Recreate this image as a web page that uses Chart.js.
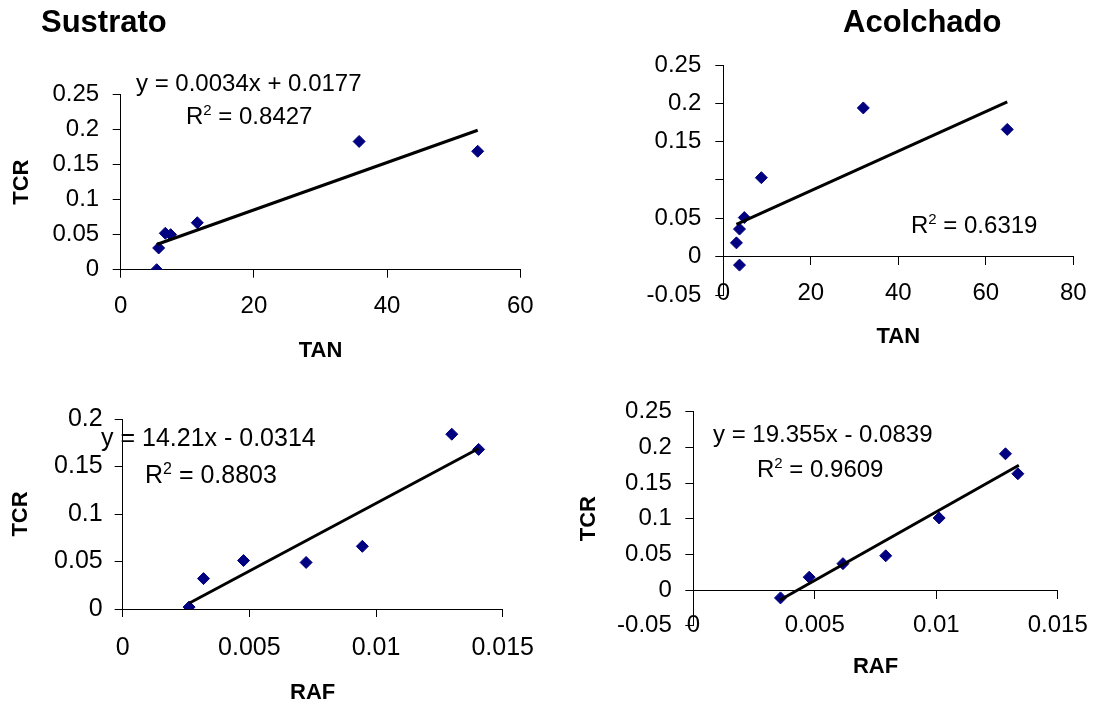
<!DOCTYPE html>
<html>
<head>
<meta charset="utf-8">
<title>TCR vs TAN / RAF</title>
<script src="https://cdn.jsdelivr.net/npm/chart.js@4.4.1/dist/chart.umd.min.js"></script>
<style>
  body { margin: 0; background: #fff; }
  canvas { position: absolute; left: 0; top: 0; }
</style>
</head>
<body>
<canvas id="c1" width="1094" height="707"></canvas>
<canvas id="c2" width="1094" height="707"></canvas>
<canvas id="c3" width="1094" height="707"></canvas>
<canvas id="c4" width="1094" height="707"></canvas>
<script>
// Sustrato: TCR vs TAN
const tanSustrato = [5.4, 5.7, 6.7, 7.5, 11.5, 35.8, 53.6];
const tcrSustratoTan = [0.000, 0.031, 0.052, 0.050, 0.067, 0.183, 0.169];
const trendTanSustrato = [5.4, 53.6];
const trendTcrSustratoTan = [0.036, 0.199];

// Acolchado: TCR vs TAN
const tanAcolchado = [3.0, 3.7, 3.7, 4.8, 8.7, 32.0, 64.9];
const tcrAcolchadoTan = [0.018, 0.036, -0.011, 0.051, 0.103, 0.194, 0.166];
const trendTanAcolchado = [3.0, 64.9];
const trendTcrAcolchadoTan = [0.042, 0.202];

// Sustrato: TCR vs RAF
const rafSustrato = [0.00262, 0.00319, 0.00477, 0.00724, 0.00946, 0.01299, 0.01405];
const tcrSustratoRaf = [0.002, 0.032, 0.051, 0.049, 0.066, 0.184, 0.168];
const trendRafSustrato = [0.00262, 0.01405];
const trendTcrSustratoRaf = [0.006, 0.169];

// Acolchado: TCR vs RAF
const rafAcolchado = [0.00359, 0.00477, 0.00616, 0.00792, 0.01012, 0.01285, 0.01336];
const tcrAcolchadoRaf = [-0.011, 0.018, 0.037, 0.048, 0.101, 0.191, 0.163];
const trendRafAcolchado = [0.00357, 0.0134];
const trendTcrAcolchadoRaf = [-0.014, 0.175];

// tick values and labels
const tcrTicks1 = [0, 0.05, 0.1, 0.15, 0.2, 0.25];
const tcrLabels1 = ['0', '0.05', '0.1', '0.15', '0.2', '0.25'];
const tanTicks1 = [0, 20, 40, 60];
const tanLabels1 = ['0', '20', '40', '60'];

const tcrTicks2 = [-0.05, 0, 0.05, 0.1, 0.15, 0.2, 0.25];
const tcrLabels2 = ['-0.05', '0', '0.05', '', '0.15', '0.2', '0.25'];
const tanTicks2 = [0, 20, 40, 60, 80];
const tanLabels2 = ['0', '20', '40', '60', '80'];

const tcrTicks3 = [0, 0.05, 0.1, 0.15, 0.2];
const tcrLabels3 = ['0', '0.05', '0.1', '0.15', '0.2'];
const rafTicks = [0, 0.005, 0.01, 0.015];
const rafLabels = ['0', '0.005', '0.01', '0.015'];

const tcrTicks4 = [-0.05, 0, 0.05, 0.1, 0.15, 0.2, 0.25];
const tcrLabels4 = ['-0.05', '0', '0.05', '0.1', '0.15', '0.2', '0.25'];

const FONT = "'Liberation Sans', Arial, sans-serif";
const NAVY = '#000080';

// text drawn on top of each chart (equations, R², panel titles)
const notesPlugin = {
  id: 'notes',
  afterDraw(chart, args, opts) {
    const ctx = chart.ctx;
    ctx.save();
    ctx.fillStyle = '#000';
    ctx.textBaseline = 'alphabetic';
    ctx.textAlign = 'left';
    (opts.items || []).forEach(item => {
      let x = item.x;
      item.parts.forEach(p => {
        const size = p.sup ? Math.round(item.size * 0.62) : item.size;
        ctx.font = (p.bold ? 'bold ' : '') + size + 'px ' + FONT;
        const y = p.sup ? item.y - item.size * 0.36 : item.y;
        ctx.fillText(p.t, x, y);
        x += ctx.measureText(p.t).width;
      });
    });
    ctx.restore();
  }
};

function points(xs, ys) {
  return xs.map((x, i) => ({ x: x, y: ys[i] }));
}

function datasets(xs, ys, tx, ty) {
  return [
    {
      type: 'line',
      data: points(tx, ty),
      borderColor: '#000',
      borderWidth: 3,
      pointRadius: 0,
      fill: false,
      xAxisID: 'x',
      yAxisID: 'y',
      order: 0
    },
    {
      data: points(xs, ys),
      pointStyle: 'rectRot',
      pointRadius: 6,
      backgroundColor: NAVY,
      borderColor: NAVY,
      borderWidth: 1,
      xAxisID: 'x',
      yAxisID: 'y',
      order: 1
    }
  ];
}

function tickFont(size) {
  return { family: FONT, size: size };
}

function axisTitle(text) {
  return { display: true, text: text, color: '#000', padding: 0,
           font: { family: FONT, size: 22, weight: 'bold' } };
}

function valueScale(ticks, labels, o) {
  return {
    type: 'linear',
    position: o.position,
    min: ticks[0],
    max: ticks[ticks.length - 1],
    afterBuildTicks: s => { s.ticks = ticks.map(v => ({ value: v })); },
    afterFit: s => {
      if (o.width !== undefined) s.width = o.width;
      if (o.height !== undefined) s.height = o.height;
      // labels of an axis that crosses at zero must not squeeze the plot
      if (o.noOverflow) { s.paddingLeft = 0; s.paddingRight = 0; }
    },
    ticks: {
      display: o.showLabels !== false,
      callback: (v, i) => labels[i],
      padding: o.pad,
      autoSkip: false,
      maxRotation: 0,
      font: tickFont(o.font),
      color: '#000'
    },
    grid: o.noGrid
      ? { display: false, drawTicks: false }
      : { drawOnChartArea: false, drawTicks: true, tickLength: 8, color: '#000', lineWidth: 1 },
    border: { display: !o.noGrid, color: '#000', width: 1 },
    title: o.title ? axisTitle(o.title) : { display: false }
  };
}

function makeChart(id, cfg) {
  return new Chart(document.getElementById(id), {
    type: 'scatter',
    data: { datasets: cfg.datasets },
    options: {
      responsive: false,
      animation: false,
      devicePixelRatio: 1,
      layout: { padding: cfg.padding },
      scales: cfg.scales,
      plugins: {
        legend: { display: false },
        tooltip: { enabled: false },
        notes: { items: cfg.notes }
      }
    },
    plugins: [notesPlugin]
  });
}

// Sustrato - TAN
makeChart('c1', {
  datasets: datasets(tanSustrato, tcrSustratoTan, trendTanSustrato, trendTcrSustratoTan),
  padding: { left: 9, top: 94.5, right: 573.7, bottom: 342.8 },
  scales: {
    x: valueScale(tanTicks1, tanLabels1, { position: 'bottom', height: 94.5, pad: 14.6, font: 24, title: 'TAN' }),
    y: valueScale(tcrTicks1, tcrLabels1, { position: 'left', width: 111.7, pad: 13.5, font: 24, title: 'TCR' })
  },
  notes: [
    { x: 41, y: 32, size: 31, parts: [{ t: 'Sustrato', bold: true }] },
    { x: 136, y: 91, size: 24, parts: [{ t: 'y = 0.0034x + 0.0177' }] },
    { x: 186, y: 124, size: 24, parts: [{ t: 'R' }, { t: '2', sup: true }, { t: ' = 0.8427' }] }
  ]
});

// Acolchado - TAN (x axis crosses at 0, its labels sit low)
makeChart('c2', {
  datasets: datasets(tanAcolchado, tcrAcolchadoTan, trendTanAcolchado, trendTcrAcolchadoTan),
  padding: { left: 600, top: 65, right: 20.7, bottom: 357.1 },
  scales: {
    x: valueScale(tanTicks2, tanLabels2, { position: { y: 0 }, pad: 13.9, font: 24, noOverflow: true }),
    x2: valueScale(tanTicks2, tanLabels2, { position: 'bottom', noGrid: true, showLabels: false, height: 54.9, pad: 0, font: 24, title: 'TAN' }),
    y: valueScale(tcrTicks2, tcrLabels2, { position: 'left', width: 123.3, pad: 14, font: 24 })
  },
  notes: [
    { x: 843, y: 32, size: 31, parts: [{ t: 'Acolchado', bold: true }] },
    { x: 911, y: 233, size: 24, parts: [{ t: 'R' }, { t: '2', sup: true }, { t: ' = 0.6319' }] }
  ]
});

// Sustrato - RAF
makeChart('c3', {
  datasets: datasets(rafSustrato, tcrSustratoRaf, trendRafSustrato, trendTcrSustratoRaf),
  padding: { left: 8.2, top: 419, right: 591.3, bottom: 0.5 },
  scales: {
    x: valueScale(rafTicks, rafLabels, { position: 'bottom', height: 97.5, pad: 15.7, font: 25, title: 'RAF' }),
    y: valueScale(tcrTicks3, tcrLabels3, { position: 'left', width: 114.5, pad: 12, font: 25, title: 'TCR' })
  },
  notes: [
    { x: 101, y: 445.5, size: 25, parts: [{ t: 'y = 14.21x - 0.0314' }] },
    { x: 145, y: 483, size: 25, parts: [{ t: 'R' }, { t: '2', sup: true }, { t: ' = 0.8803' }] }
  ]
});

// Acolchado - RAF (x axis crosses at 0, its labels sit low)
makeChart('c4', {
  datasets: datasets(rafAcolchado, tcrAcolchadoRaf, trendRafAcolchado, trendTcrAcolchadoRaf),
  padding: { left: 575.8, top: 411.7, right: 36.3, bottom: 26.5 },
  scales: {
    x: valueScale(rafTicks, rafLabels, { position: { y: 0 }, pad: 12.6, font: 24, noOverflow: true }),
    x2: valueScale(rafTicks, rafLabels, { position: 'bottom', noGrid: true, showLabels: false, height: 54.8, pad: 0, font: 24, title: 'RAF' }),
    y: valueScale(tcrTicks4, tcrLabels4, { position: 'left', width: 117.5, pad: 13.5, font: 24, title: 'TCR' })
  },
  notes: [
    { x: 713, y: 442, size: 24, parts: [{ t: 'y = 19.355x - 0.0839' }] },
    { x: 757, y: 477, size: 24, parts: [{ t: 'R' }, { t: '2', sup: true }, { t: ' = 0.9609' }] }
  ]
});
</script>
</body>
</html>
